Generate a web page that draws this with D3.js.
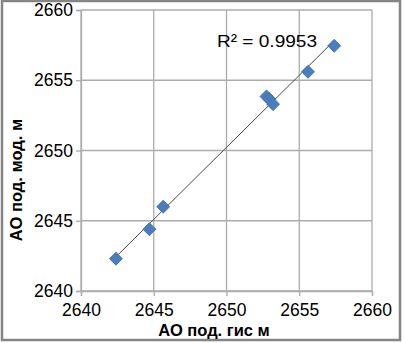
<!DOCTYPE html>
<html>
<head>
<meta charset="utf-8">
<script src="https://cdn.jsdelivr.net/npm/d3@7"></script>
<style>
  body { margin: 0; background: #fff; }
  text { font-family: "Liberation Sans", Arial, sans-serif; fill: #000; }
</style>
</head>
<body>
<div id="plot"></div>
<script>
// data
var gisDepth = [2642.4, 2644.7, 2645.65, 2652.75, 2652.95, 2653.2, 2655.6, 2657.4];
var modDepth = [2642.3, 2644.4, 2646.0, 2653.85, 2653.65, 2653.3, 2655.6, 2657.45];
var tickValues = [2640, 2645, 2650, 2655, 2660];
var rSquaredLabel = "R² = 0.9953";
var xTitle = "АО под. гис м";
var yTitle = "АО под. мод. м";

var width = 404, height = 343;
const margin = {top: 10, right: 32, bottom: 52, left: 81};
var chartWidth = width - margin.left - margin.right;
var chartHeight = height - margin.top - margin.bottom;

var svg = d3.select("#plot")
     .append("svg")
     .attr("width", width)
     .attr("height", height);

// outer frame
svg.append("rect")
     .attr("x", 2).attr("y", 1)
     .attr("width", 398).attr("height", 339)
     .attr("fill", "none")
     .attr("stroke", "#858585")
     .attr("stroke-width", 2.5);

var g = svg.append("g")
     .attr("transform", "translate(" + margin.left + "," + margin.top + ")");

var x = d3.scaleLinear().domain([2640, 2660]).range([0, chartWidth]);
var y = d3.scaleLinear().domain([2640, 2660]).range([chartHeight, 0]);

// gridlines
g.append("g")
     .selectAll("line.vx")
     .data(tickValues)
     .enter()
     .append("line")
     .attr("x1", d => x(d)).attr("x2", d => x(d))
     .attr("y1", 0).attr("y2", chartHeight)
     .attr("stroke", "#acacac").attr("stroke-width", 1.3);

g.append("g")
     .selectAll("line.hy")
     .data(tickValues)
     .enter()
     .append("line")
     .attr("x1", 0).attr("x2", chartWidth)
     .attr("y1", d => y(d)).attr("y2", d => y(d))
     .attr("stroke", "#acacac").attr("stroke-width", 1.3);

// axes
var xAxis = g.append("g")
     .attr("transform", "translate(0," + chartHeight + ")")
     .call(d3.axisBottom(x).tickValues(tickValues).tickSize(5).tickPadding(8).tickFormat(d3.format("d")));
var yAxis = g.append("g")
     .call(d3.axisLeft(y).tickValues(tickValues).tickSize(5).tickPadding(3).tickFormat(d3.format("d")));

[xAxis, yAxis].forEach(function(a) {
     a.select(".domain").attr("stroke", "#acacac").attr("stroke-width", 1.3);
     a.selectAll(".tick line").attr("stroke", "#acacac").attr("stroke-width", 1.3);
     a.selectAll("text")
          .style("font-family", "'Liberation Sans', Arial, sans-serif")
          .style("font-size", "17.5px")
          .attr("fill", "#000");
});

// linear trend line (least squares)
var n = gisDepth.length;
var mx = d3.mean(gisDepth), my = d3.mean(modDepth);
var sxy = 0, sxx = 0;
for (var i = 0; i < n; i++) {
     sxy += (gisDepth[i] - mx) * (modDepth[i] - my);
     sxx += (gisDepth[i] - mx) * (gisDepth[i] - mx);
}
var slope = sxy / sxx;
var intercept = my - slope * mx;
var xr = d3.extent(gisDepth);

g.append("line")
     .attr("x1", x(xr[0])).attr("y1", y(slope * xr[0] + intercept))
     .attr("x2", x(xr[1])).attr("y2", y(slope * xr[1] + intercept))
     .attr("stroke", "#4a4a4a")
     .attr("stroke-width", 1);

// markers
var points = gisDepth.map(function(d, i) { return {gx: d, my: modDepth[i]}; });
g.selectAll("rect.pt")
     .data(points)
     .enter()
     .append("rect")
     .attr("class", "pt")
     .attr("x", -4.6).attr("y", -4.6)
     .attr("width", 9.2).attr("height", 9.2)
     .attr("transform", d => "translate(" + x(d.gx) + "," + y(d.my) + ") rotate(45)")
     .attr("fill", "#4a7ebb")
     .attr("stroke", "#3f6fa9")
     .attr("stroke-width", 0.8);

// R squared label
svg.append("text")
     .attr("x", 217)
     .attr("y", 47)
     .attr("textLength", 100)
     .attr("lengthAdjust", "spacingAndGlyphs")
     .style("font-size", "17px")
     .text(rSquaredLabel);

// axis titles
svg.append("text")
     .attr("x", 214)
     .attr("y", 336)
     .attr("text-anchor", "middle")
     .style("font-size", "16.5px")
     .style("font-weight", "bold")
     .text(xTitle);

svg.append("text")
     .attr("transform", "translate(21.5,180) rotate(-90)")
     .attr("text-anchor", "middle")
     .style("font-size", "16.5px")
     .style("font-weight", "bold")
     .text(yTitle);
</script>
</body>
</html>
